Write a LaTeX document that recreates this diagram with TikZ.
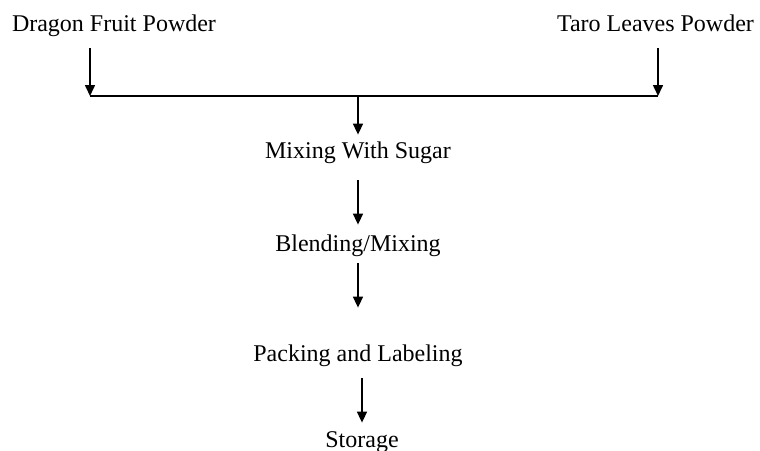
\documentclass[tikz,border=0pt]{standalone}
\usepackage{fontspec}
\setmainfont{Liberation Serif}
\usetikzlibrary{arrows.meta, positioning}

\begin{document}
\begin{tikzpicture}[
    x=0.5pt, y=-0.5pt,
    stage/.style={font=\fontsize{12}{14}\selectfont, inner sep=0pt, text height=8pt, text depth=2.5pt},
    flow/.style={-{Triangle[length=5.5pt, width=5pt]}, line width=0.8pt, black},
    joint/.style={line width=0.8pt, black}
]
\useasboundingbox (0,0) rectangle (760,450);

% === Inputs ===
\node[stage] (dragon) at (114, 25.5) {Dragon Fruit Powder};
\node[stage] (taro) at (655.5, 25.5) {Taro Leaves Powder};

% Junction line
\coordinate (jl) at (90, 96);
\coordinate (jr) at (658, 96);
\coordinate (jm) at (358, 96);

\draw[flow, shorten <=6pt] (dragon.south -| jl) -- (jl);
\draw[flow, shorten <=6pt] (taro.south -| jr) -- (jr);
\draw[joint] (jl) -- (jr);

% === Process steps ===
\node[stage] (mix) at (358, 152.5) {Mixing With Sugar};
\node[stage] (blend) at (358, 245.5) {Blending/Mixing};
\node[stage] (pack) at (358, 355.5) {Packing and Labeling};
\node[stage] (store) at (362, 441.5) {Storage};

\draw[flow, shorten >=3.5pt] (jm) -- (mix.north);
\draw[flow, shorten <=8.5pt, shorten >=5pt] (mix.south) -- (blend.north);
\draw[flow, shorten <=3.5pt, shorten >=18.5pt] (blend.south) -- (pack.north);
\draw[flow, shorten <=6pt, shorten >=4pt] (pack.south -| store.north) -- (store.north);
\end{tikzpicture}
\end{document}
